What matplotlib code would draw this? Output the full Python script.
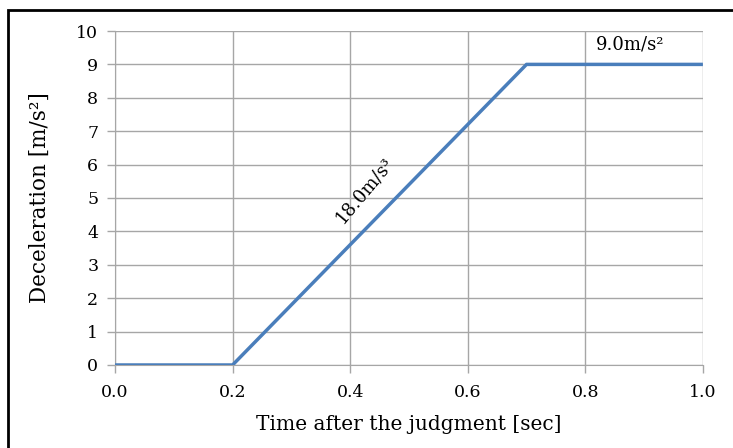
import matplotlib.pyplot as plt
from matplotlib.patches import Rectangle

time_s = [0.0, 0.2, 0.7, 1.0]
decel = [0, 0, 9, 9]
x_ticks = [0.0, 0.2, 0.4, 0.6, 0.8, 1.0]
y_ticks = list(range(0, 11))

plt.rcParams['font.family'] = ['DejaVu Serif']

fig = plt.figure(figsize=(7.33, 4.48), dpi=100)
ax = fig.add_axes([0.1569, 0.1853, 0.802, 0.7455])

ax.plot(time_s, decel, color='#4A7EBB', lw=2.5, zorder=3, solid_capstyle='butt')

ax.set_xlim(0, 1.0)
ax.set_ylim(0, 10)
ax.set_xticks(x_ticks)
ax.set_xticklabels([f'{v:.1f}' for v in x_ticks])
ax.set_yticks(y_ticks)
ax.grid(True, color='#A6A6A6', lw=1)
for s in ['top', 'right']:
    ax.spines[s].set_visible(False)
for s in ['left', 'bottom']:
    ax.spines[s].set_color('#A6A6A6')
ax.tick_params(axis='both', colors='#A6A6A6', labelcolor='black', labelsize=12.5,
               length=6, width=1)
ax.tick_params(axis='x', pad=8)
ax.tick_params(axis='y', pad=6)

ax.set_xlabel('Time after the judgment [sec]', fontsize=14.5, labelpad=10)
ax.set_ylabel('Deceleration [m/s²]', fontsize=15.5, labelpad=18)

ax.text(0.876, 9.6, '9.0m/s²', fontsize=13, ha='center', va='center')
ax.text(0.424, 5.24, '18.0m/s³', fontsize=13, ha='center', va='center', rotation=50)

fig.patches.append(Rectangle((8 / 733, -0.1), 1.2, 0.1 + 1 - 10 / 448,
                             transform=fig.transFigure, fill=False,
                             edgecolor='black', lw=2))

fig.savefig('out.png', dpi=100)
